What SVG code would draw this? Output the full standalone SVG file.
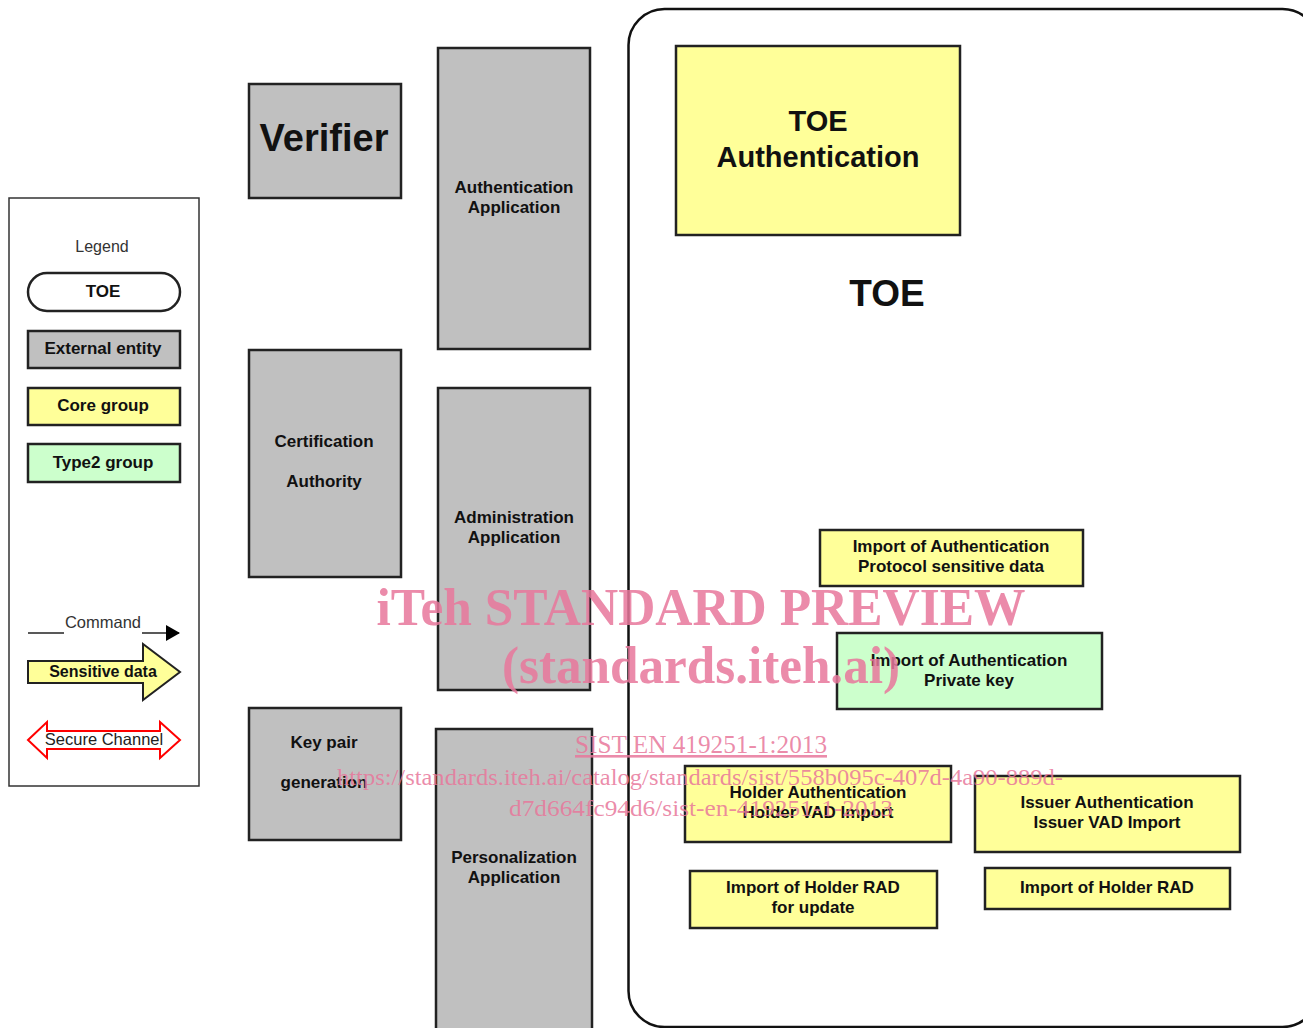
<svg xmlns="http://www.w3.org/2000/svg" width="1303" height="1028" viewBox="0 0 1303 1028">
<style>
.box{stroke:#222;stroke-width:2.5}
.ext{fill:#c0c0c0}
.core{fill:#ffff99}
.t2{fill:#ccffcc}
.lb{font-family:"Liberation Sans",Arial,sans-serif;font-weight:bold;font-size:17px;fill:#111;text-anchor:middle}
.wm{font-family:"Liberation Serif","Times New Roman",serif;fill:#e8779b;fill-opacity:0.85;text-anchor:middle}
</style>
<defs>
<marker id="ah" markerWidth="14" markerHeight="16" refX="13" refY="8" orient="auto" markerUnits="userSpaceOnUse"><path d="M0,0 L14,8 L0,16 Z" fill="#000"/></marker>
</defs>
<rect width="1303" height="1028" fill="#fff"/>

<g id="legend">
<rect x="9" y="198" width="190" height="588" fill="#fff" stroke="#333" stroke-width="1.5"/>
<text x="102" y="252" style="font-family:'Liberation Sans',Arial,sans-serif;font-size:16px;fill:#333;text-anchor:middle">Legend</text>
<rect x="28" y="273" width="152" height="38" rx="19" fill="#fff" class="box"/>
<text x="103" y="297" class="lb">TOE</text>
<rect x="28" y="331" width="152" height="37" class="box ext"/>
<text x="103" y="354" class="lb">External entity</text>
<rect x="28" y="388" width="152" height="37" class="box core"/>
<text x="103" y="411" class="lb">Core group</text>
<rect x="28" y="444" width="152" height="38" class="box t2"/>
<text x="103" y="468" class="lb">Type2 group</text>
<line x1="28" y1="633" x2="64" y2="633" stroke="#222" stroke-width="1.5"/>
<line x1="142" y1="633" x2="179" y2="633" stroke="#222" stroke-width="1.5" marker-end="url(#ah)"/>
<text x="103" y="628" style="font-family:'Liberation Sans',Arial,sans-serif;font-size:16.5px;fill:#333;text-anchor:middle">Command</text>
<path d="M28,661 L143,661 L143,644 L180,672 L143,700 L143,683 L28,683 Z" fill="#ffff99" stroke="#222" stroke-width="2"/>
<text x="103" y="677" class="lb" style="font-size:16px">Sensitive data</text>
<path d="M28,740 L47,722 L47,731 L160,731 L160,722 L180,740 L160,758 L160,749 L47,749 L47,758 Z" fill="#fff" stroke="#f00" stroke-width="2"/>
<text x="104" y="745" style="font-family:'Liberation Sans',Arial,sans-serif;font-size:16.5px;fill:#222;text-anchor:middle">Secure Channel</text>
</g>

<g id="verifier">
<rect x="249" y="84" width="152" height="114" class="box ext"/>
<text x="324" y="151" class="lb" style="font-size:38px">Verifier</text>
</g>
<g id="auth-app">
<rect x="438" y="48" width="152" height="301" class="box ext"/>
<text x="514" y="193" class="lb">Authentication</text>
<text x="514" y="213" class="lb">Application</text>
</g>
<g id="cert-auth">
<rect x="249" y="350" width="152" height="227" class="box ext"/>
<text x="324" y="447" class="lb">Certification</text>
<text x="324" y="487" class="lb">Authority</text>
</g>
<g id="admin-app">
<rect x="438" y="388" width="152" height="302" class="box ext"/>
<text x="514" y="523" class="lb">Administration</text>
<text x="514" y="543" class="lb">Application</text>
</g>
<g id="keypair">
<rect x="249" y="708" width="152" height="132" class="box ext"/>
<text x="324" y="748" class="lb">Key pair</text>
<text x="324" y="788" class="lb">generation</text>
</g>
<g id="perso-app">
<rect x="436" y="729" width="156" height="310" class="box ext"/>
<text x="514" y="863" class="lb">Personalization</text>
<text x="514" y="883" class="lb">Application</text>
</g>

<g id="toe">
<rect x="628.5" y="9" width="690" height="1018" rx="36" fill="none" stroke="#111" stroke-width="2.5"/>
<text x="887" y="306" class="lb" style="font-size:37px">TOE</text>
</g>
<g id="toe-auth">
<rect x="676" y="46" width="284" height="189" class="box core"/>
<text x="818" y="131" class="lb" style="font-size:29px">TOE</text>
<text x="818" y="167" class="lb" style="font-size:29px">Authentication</text>
</g>
<g id="import-proto">
<rect x="820" y="530" width="263" height="56" class="box core"/>
<text x="951" y="552" class="lb">Import of Authentication</text>
<text x="951" y="572" class="lb">Protocol sensitive data</text>
</g>
<g id="import-priv">
<rect x="837" y="633" width="265" height="76" class="box t2"/>
<text x="969" y="666" class="lb">Import of Authentication</text>
<text x="969" y="686" class="lb">Private key</text>
</g>
<g id="holder-auth">
<rect x="685" y="766" width="266" height="76" class="box core"/>
<text x="818" y="798" class="lb">Holder Authentication</text>
<text x="818" y="818" class="lb">Holder VAD Import</text>
</g>
<g id="issuer-auth">
<rect x="975" y="776" width="265" height="76" class="box core"/>
<text x="1107" y="808" class="lb">Issuer Authentication</text>
<text x="1107" y="828" class="lb">Issuer VAD Import</text>
</g>
<g id="rad-update">
<rect x="690" y="871" width="247" height="57" class="box core"/>
<text x="813" y="893" class="lb">Import of Holder RAD</text>
<text x="813" y="913" class="lb">for update</text>
</g>
<g id="rad">
<rect x="985" y="868" width="245" height="41" class="box core"/>
<text x="1107" y="893" class="lb">Import of Holder RAD</text>
</g>

<g id="connectors"></g>

<g id="watermark">
<text x="701" y="625" class="wm" style="font-size:52px;font-weight:bold" textLength="649" lengthAdjust="spacingAndGlyphs">iTeh STANDARD PREVIEW</text>
<text x="701" y="683" class="wm" style="font-size:52px;font-weight:bold" textLength="398" lengthAdjust="spacingAndGlyphs">(standards.iteh.ai)</text>
<text x="701" y="753" class="wm" style="font-size:26px;text-decoration:underline" textLength="252" lengthAdjust="spacingAndGlyphs">SIST EN 419251-1:2013</text>
<text x="700" y="785" class="wm" style="font-size:24px" textLength="726" lengthAdjust="spacingAndGlyphs">https://standards.iteh.ai/catalog/standards/sist/558b095c-407d-4a90-889d-</text>
<text x="701" y="816" class="wm" style="font-size:24px" textLength="384" lengthAdjust="spacingAndGlyphs">d7d664fc94d6/sist-en-419251-1-2013</text>
</g>
</svg>
